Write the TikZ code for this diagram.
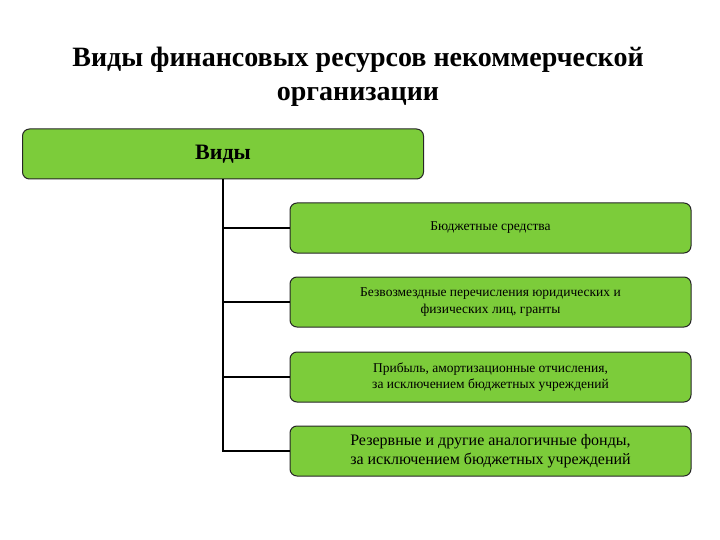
\documentclass[tikz,border=0pt]{standalone}
\usepackage{fontspec}
\setmainfont{Liberation Serif}
\usepackage{tikz}
\usetikzlibrary{positioning}
\definecolor{leafgreen}{RGB}{124,204,58}

\begin{document}
\begin{tikzpicture}[x=1pt,y=-1pt,
     kind/.style={draw=black!85,fill=leafgreen,rounded corners=7pt,line width=1pt,
       minimum width=401pt,minimum height=50pt,inner sep=2pt,align=center},
     small/.style={font=\fontsize{13.5}{16.5}\selectfont},
     link/.style={line width=1.8pt,black}]
    \useasboundingbox (0,0) rectangle (720,540);
    \node[align=center,font=\fontsize{28}{34}\selectfont\bfseries] (title) at (358,77)
      {Виды финансовых ресурсов некоммерческой\\ организации};
    \node[kind,font=\fontsize{22}{24}\selectfont\bfseries] (root) at (223,154) {Виды};
    \node[kind,small] (b1) at (490.5,228) {Бюджетные средства};
    \node[kind,small] (b2) at (490.5,302)
      {Безвозмездные перечисления юридических и\\ физических лиц, гранты};
    \node[kind,small] (b3) at (490.5,377)
      {Прибыль, амортизационные отчисления,\\ за исключением бюджетных учреждений};
    \node[kind,font=\fontsize{16}{19}\selectfont] (b4) at (490.5,451)
      {Резервные и другие аналогичные фонды,\\ за исключением бюджетных учреждений};
    \draw[link] (root.south) |- (b1.west);
    \draw[link] (root.south) |- (b2.west);
    \draw[link] (root.south) |- (b3.west);
    \draw[link] (root.south) |- (b4.west);
  \end{tikzpicture}
\end{document}
